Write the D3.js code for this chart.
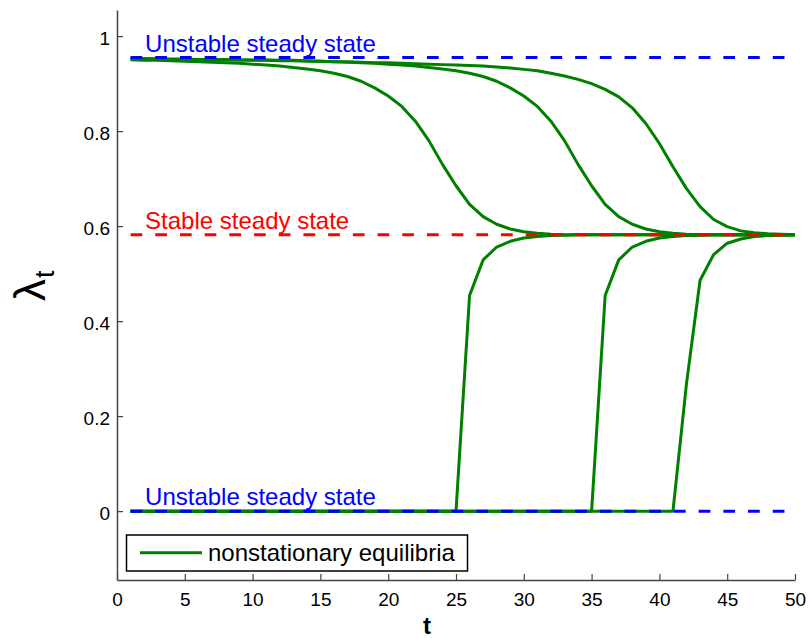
<!DOCTYPE html>
<html><head><meta charset="utf-8">
<script src="https://cdn.jsdelivr.net/npm/d3@7"></script>
<style>body{margin:0;background:#fff}svg{display:block}text{font-family:"Liberation Sans",Arial,sans-serif}</style>
</head><body>
<svg id="c" width="809" height="638"></svg>
<script>
// time grid
const tValues = d3.range(1, 51);
// descending equilibria (start near unstable high state, converge to stable)
const descA = [0.950,0.949,0.949,0.948,0.947,0.946,0.945,0.944,0.943,0.941,
  0.939,0.937,0.934,0.931,0.927,0.922,0.915,0.905,0.891,0.874,
  0.852,0.821,0.780,0.730,0.685,0.646,0.620,0.604,0.594,0.588,
  0.585,0.583,0.582,0.582,0.582,0.582,0.582,0.582,0.582,0.582,
  0.582,0.582,0.582,0.582,0.582,0.582,0.582,0.582,0.582,0.582];
const descB = [0.953,0.953,0.952,0.952,0.952,0.951,0.951,0.951,0.950,0.950,
  0.950,0.949,0.949,0.948,0.947,0.946,0.945,0.944,0.943,0.941,
  0.939,0.937,0.934,0.931,0.927,0.922,0.915,0.905,0.891,0.874,
  0.852,0.821,0.780,0.730,0.685,0.646,0.620,0.604,0.594,0.588,
  0.585,0.583,0.582,0.582,0.582,0.582,0.582,0.582,0.582,0.582];
const descC = [0.952,0.952,0.952,0.951,0.951,0.951,0.950,0.950,0.950,0.949,
  0.949,0.948,0.948,0.947,0.947,0.946,0.946,0.945,0.944,0.944,
  0.943,0.942,0.941,0.940,0.939,0.938,0.937,0.935,0.933,0.930,
  0.927,0.922,0.916,0.909,0.900,0.888,0.872,0.849,0.816,0.774,
  0.725,0.679,0.641,0.614,0.599,0.590,0.586,0.584,0.583,0.582];
// rising equilibria (start at zero, jump to stable)
const riseD = [0,0,0,0,0,0,0,0,0,0, 0,0,0,0,0,0,0,0,0,0, 0,0,0,0,0,
  0.454,0.529,0.556,0.568,0.575,0.578,0.580,0.581,0.582,0.582,
  0.582,0.582,0.582,0.582,0.582,0.582,0.582,0.582,0.582,0.582,
  0.582,0.582,0.582,0.582,0.582];
const riseE = [0,0,0,0,0,0,0,0,0,0, 0,0,0,0,0,0,0,0,0,0, 0,0,0,0,0,
  0,0,0,0,0,0,0,0,0,0,
  0.454,0.529,0.556,0.568,0.575,0.578,0.580,0.581,0.582,0.582,
  0.582,0.582,0.582,0.582,0.582];
const riseF = [0,0,0,0,0,0,0,0,0,0, 0,0,0,0,0,0,0,0,0,0, 0,0,0,0,0,
  0,0,0,0,0,0,0,0,0,0, 0,0,0,0,0,0,
  0.269,0.486,0.540,0.564,0.573,0.578,0.580,0.581,0.582];
const greenSeries = [descA, descB, descC, riseD, riseE, riseF];
// steady states
const steadyStates = [
  {value: 0.955, label: "Unstable steady state", color: "#0000ff"},
  {value: 0.582, label: "Stable steady state", color: "#ff0000"},
  {value: 0.0,   label: "Unstable steady state", color: "#0000ff"}
];
const xTicks = [0,5,10,15,20,25,30,35,40,45,50];
const yTicks = [0,0.2,0.4,0.6,0.8,1];
const legendLabel = "nonstationary equilibria";

const svg = d3.select("#c");
const x = d3.scaleLinear().domain([0,50]).range([117,795]);
const y = d3.scaleLinear().domain([-0.145,1.055]).range([580,10]);

const line = d3.line().x((d,i)=>x(tValues[i])).y(d=>y(d));

// green curves
svg.append("g").selectAll("path").data(greenSeries).join("path")
  .attr("d", line).attr("fill","none").attr("stroke","#008000")
  .attr("stroke-width",3).attr("stroke-linejoin","round");

// dashed steady states
svg.append("g").selectAll("line").data(steadyStates).join("line")
  .attr("x1", x(1)).attr("x2", x(50))
  .attr("y1", d=>y(d.value)).attr("y2", d=>y(d.value))
  .attr("stroke", d=>d.color).attr("stroke-width",3)
  .attr("stroke-dasharray","11.7,13");

svg.append("g").selectAll("text").data(steadyStates).join("text")
  .attr("x", x(2.07)).attr("y", d=>y(d.value)-6)
  .attr("fill", d=>d.color).attr("font-size",24).text(d=>d.label);

// axes
const axisColor = "#444";
const xAxis = svg.append("g").attr("transform","translate(0,580)")
  .call(d3.axisBottom(x).tickValues(xTicks).tickSizeInner(-6).tickSizeOuter(0).tickPadding(13));
const yAxis = svg.append("g").attr("transform","translate(117,0)")
  .call(d3.axisLeft(y).tickValues(yTicks).tickSizeInner(-6).tickSizeOuter(0).tickPadding(7)
    .tickFormat(d3.format("~g")));
[xAxis,yAxis].forEach(a=>{
  a.select(".domain").attr("stroke",axisColor).attr("stroke-width",1.5);
  a.selectAll(".tick line").attr("stroke",axisColor).attr("stroke-width",1.2);
  a.selectAll(".tick text").attr("fill","#000").attr("font-size",19)
    .attr("font-family",'"Liberation Sans",Arial,sans-serif');
});
yAxis.selectAll(".tick text").attr("x",-7).attr("dy","0.42em");

// axis labels
svg.append("text").attr("x",427).attr("y",634).attr("text-anchor","middle")
  .attr("font-size",24).attr("font-weight","bold").text("t");
const yl = svg.append("text").attr("transform","translate(45,301) rotate(-90)")
  .attr("text-anchor","start");
yl.append("tspan").attr("font-size",44).text("λ");
yl.append("tspan").attr("font-size",27).attr("dy",9).attr("dx",1).text("t");

// legend
const lg = svg.append("g");
lg.append("rect").attr("x",126.5).attr("y",535).attr("width",341).attr("height",36)
  .attr("fill","#fff").attr("stroke","#000").attr("stroke-width",1.5);
lg.append("line").attr("x1",140).attr("x2",202).attr("y1",552.7).attr("y2",552.7)
  .attr("stroke","#008000").attr("stroke-width",3);
lg.append("text").attr("x",208).attr("y",561).attr("font-size",24).text(legendLabel);
</script>
</body></html>
